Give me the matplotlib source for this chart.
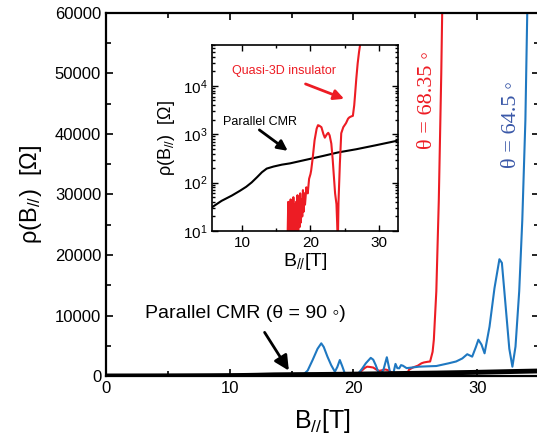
import matplotlib
matplotlib.use("Agg")
import matplotlib.pyplot as plt
from matplotlib.ticker import MultipleLocator, LogLocator, NullFormatter

plt.rcParams.update({
    "font.family": ["Liberation Sans", "DejaVu Sans"],
    "mathtext.default": "regular",
    "xtick.direction": "in",
    "ytick.direction": "in",
})

RED = "#ed1c24"
BLUE = "#1f78c1"
BLUE_TXT = "#3a58a8"

# parallel CMR, theta = 90 deg
b_par = [0, 2, 4, 5.6, 7, 8.5, 9.7, 10.6, 11.4, 12.2, 12.9, 13.6, 14.6, 15.8,
         17, 19.5, 21.8, 24, 26.7, 29.5, 32.5, 35]
r_par = [8, 14, 22, 31, 42, 54, 68, 82, 101, 130, 164, 195, 215, 235,
         250, 300, 355, 420, 490, 590, 725, 830]

# theta = 68.35 deg (quasi-3D insulator)
b_68 = [15.5, 16.6, 16.75, 16.8, 16.9, 17.0, 17.1, 17.2, 17.3, 17.4, 17.5, 17.6,
        17.7, 17.8, 17.9, 18.0, 18.1, 18.2, 18.3, 18.4, 18.5, 18.6, 18.7, 18.8,
        18.9, 19.0, 19.1, 19.2, 19.4, 19.6, 19.8, 20.0, 20.1, 20.3, 20.6, 20.9,
        21.1, 21.3, 21.6, 21.9, 22.1, 22.4, 22.6, 22.8, 23.05, 23.25, 23.4, 23.6,
        23.8, 23.9, 24.0, 24.1, 24.3, 24.5, 24.8, 25.2, 25.5, 25.7, 26.0, 26.2,
        26.4, 26.5, 26.7, 26.9, 27.1, 27.3, 27.5]
r_68 = [2, 3, 40, 4, 30, 5, 45, 6, 25, 4, 50, 8,
        35, 5, 40, 10, 55, 6, 30, 12, 60, 15, 45, 20,
        70, 25, 60, 35, 80, 60, 120, 150, 178, 300, 750, 1300,
        1540, 1500, 1400, 1000, 850, 1000, 1070, 950, 640, 300, 150, 60,
        36, 15, 5, 40, 250, 1050, 1400, 1700, 2100, 2240, 2350, 2400,
        4000, 6000, 14000, 29000, 50000, 77000, 100000]

# theta = 64.5 deg
b_64 = [13.2, 14.0, 15.0, 15.9, 16.3, 16.7, 17.1, 17.4, 17.6, 17.9, 18.2, 18.5,
        18.7, 18.9, 19.1, 19.3, 19.7, 20.0, 20.35, 20.7, 21.0, 21.4, 21.6, 21.8,
        22.0, 22.2, 22.45, 22.7, 22.95, 23.2, 23.4, 23.55, 23.7, 23.85, 24.0, 24.3,
        25.3, 26.0, 26.7, 27.7, 28.3, 28.8, 29.2, 29.6, 29.9, 30.1, 30.35, 30.6,
        31.0, 31.4, 31.8, 32.0, 32.2, 32.4, 32.6, 32.85, 33.1, 33.4, 33.65, 33.9,
        34.05, 34.2]
r_64 = [20, 30, 40, 150, 900, 2640, 4500, 5400, 4800, 3200, 1800, 700,
        1500, 2640, 1600, 450, 50, 60, 300, 1200, 2100, 3000, 2700, 1800,
        700, 150, 1200, 3100, 700, 200, 2000, 1300, 1270, 1800, 1700, 1300,
        1540, 1600, 1650, 2100, 2400, 2900, 3600, 3200, 4800, 6000, 5200, 3750,
        8150, 14500, 19300, 18700, 14000, 9250, 4500, 1540, 4850, 14000, 25800, 42300,
        60000, 75000]

fig = plt.figure(figsize=(5.37, 4.43), dpi=100)
ax = fig.add_axes([106/537, 67/443, 433/537, 363/443])

ax.plot(b_par, r_par, color="black", lw=3.5, zorder=3)
ax.plot(b_68, r_68, color=RED, lw=1.5, zorder=2)
ax.plot(b_64, r_64, color=BLUE, lw=1.5, zorder=2)

ax.set_xlim(0, 35)
ax.set_ylim(0, 60000)
ax.xaxis.set_major_locator(MultipleLocator(10))
ax.xaxis.set_minor_locator(MultipleLocator(5))
ax.yaxis.set_major_locator(MultipleLocator(10000))
ax.yaxis.set_minor_locator(MultipleLocator(5000))
ax.tick_params(which="both", top=True, right=True, labelsize=12, width=1.2)
ax.tick_params(which="major", length=5)
ax.tick_params(which="minor", length=3.5)
for s in ax.spines.values():
    s.set_linewidth(1.6)

ax.set_xlabel("B$_{//}$[T]", fontsize=18, labelpad=8)
ax.set_ylabel("ρ(B$_{//}$)  [Ω]", fontsize=17, labelpad=8)

ax.text(3.15, 10400, "Parallel CMR (θ = 90 ◦)", fontsize=14, va="center")
ax.annotate("", xy=(14.9, 500), xytext=(12.7, 7600),
            arrowprops=dict(arrowstyle="-|>", color="black", lw=2,
                            mutation_scale=22), zorder=5)

fig.text(427/537, 1 - 100/443, "θ = 68.35 ◦", fontsize=16, color=RED,
         rotation=90, ha="center", va="center",
         family=["Liberation Serif", "DejaVu Serif"])
fig.text(512/537, 1 - 124/443, "θ = 64.5 ◦", fontsize=16, color=BLUE_TXT,
         rotation=90, ha="center", va="center",
         family=["Liberation Serif", "DejaVu Serif"])

# inset, log scale
ins = fig.add_axes([212/537, 212/443, 186/537, 186/443])
ins.set_facecolor("white")
ins.plot(b_par, r_par, color="black", lw=1.5)
ins.plot(b_68, r_68, color=RED, lw=1.5)
ins.set_yscale("log")
ins.set_xlim(5.6, 32.8)
ins.set_ylim(10, 7e4)
ins.xaxis.set_major_locator(MultipleLocator(10))
ins.xaxis.set_minor_locator(MultipleLocator(5))
ins.yaxis.set_major_locator(LogLocator(base=10, numticks=10))
ins.yaxis.set_minor_locator(LogLocator(base=10, subs=range(2, 10), numticks=10))
ins.yaxis.set_minor_formatter(NullFormatter())
ins.tick_params(which="both", top=True, right=True, labelsize=11, width=1)
ins.tick_params(which="major", length=4)
ins.tick_params(which="minor", length=2.5)
for s in ins.spines.values():
    s.set_linewidth(1.2)
ins.set_xlabel("B$_{//}$[T]", fontsize=14, labelpad=1)
ins.set_ylabel("ρ(B$_{//}$)  [Ω]", fontsize=13, labelpad=4)

ins.text(8.5, 20400, "Quasi-3D insulator", color=RED, fontsize=9, va="center")
ins.annotate("", xy=(25.3, 5150), xytext=(18.9, 11500),
             arrowprops=dict(arrowstyle="-|>", color=RED, lw=2,
                             mutation_scale=15))
ins.text(7.2, 1780, "Parallel CMR", color="black", fontsize=9, va="center")
ins.annotate("", xy=(17.0, 420), xytext=(12.2, 1330),
             arrowprops=dict(arrowstyle="-|>", color="black", lw=2,
                             mutation_scale=15))

fig.savefig("out.png", dpi=100, facecolor="white")
